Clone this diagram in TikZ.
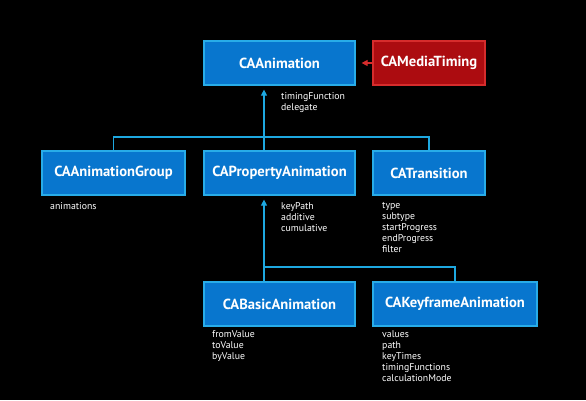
\documentclass[tikz,border=0pt]{standalone}
\usepackage{fontspec}
\setmainfont{PT Sans}
\usetikzlibrary{arrows.meta}
\definecolor{boxblue}{RGB}{8,118,206}
\definecolor{boxedge}{RGB}{40,172,232}
\definecolor{linkblue}{RGB}{30,168,224}
\definecolor{boxred}{RGB}{172,12,16}
\definecolor{rededge}{RGB}{214,44,44}
\tikzset{
  cls/.style={draw=boxedge,fill=boxblue,line width=1.2pt,text=white,
    font=\bfseries\fontsize{14.6}{16}\selectfont,minimum height=44pt,inner sep=0pt},
  attr/.style={anchor=north west,align=left,inner sep=0pt,text=white,
    font=\fontsize{9.8}{11}\selectfont},
  link/.style={draw=linkblue,line width=1.2pt},
  inherit/.style={link,-{Triangle[length=6pt,width=6pt]}},
}
\begin{document}
\begin{tikzpicture}[x=1pt,y=-1pt]
                \fill[black](0,0)rectangle(586,400);
                \node[cls,minimum width=151pt](anim)at(279.5,63){CAAnimation};
                \node[cls,fill=boxred,draw=rededge,minimum width=112pt](timing)at(429,63){CAMediaTiming};
                \node[cls,minimum width=143pt](group)at(113.5,173){CAAnimationGroup};
                \node[cls,minimum width=151pt](prop)at(279.5,173){CAPropertyAnimation};
                \node[cls,minimum width=112pt](trans)at(429,173){CATransition};
                \node[cls,minimum width=151pt](basic)at(279.5,304){CABasicAnimation};
                \node[cls,minimum width=164pt](key)at(455,304){CAKeyframeAnimation};
                % attributes
                \node[attr](animattr)at(281,92){timingFunction\\delegate};
                \node[attr](groupattr)at(50,202){animations};
                \node[attr](propattr)at(281,202){keyPath\\additive\\cumulative};
                \node[attr](transattr)at(382,202){type\\subtype\\startProgress\\endProgress\\filter};
                \node[attr](basicattr)at(212,330){fromValue\\toValue\\byValue};
                \node[attr](keyattr)at(382,330){values\\path\\keyTimes\\timingFunctions\\calculationMode};
                % links
                \coordinate(top)at(264,137);
                \coordinate(low)at(264,267);
                \draw[link](group.north)|-(trans.north|-top)--(trans.north);
                \draw[link](top)--(top|-prop.north);
                \draw[inherit,shorten >=4pt](top)--(top|-anim.south);
                \draw[link](low|-basic.north)--(low)-|(key.north);
                \draw[inherit,shorten >=4pt](low)--(low|-prop.south);
                \draw[inherit,draw=rededge,shorten >=6pt](timing.west)--(anim.east);
                \end{tikzpicture}
\end{document}
